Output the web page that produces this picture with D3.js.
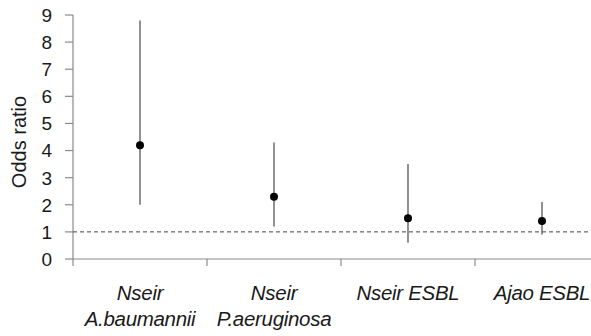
<!DOCTYPE html>
<html>
<head>
<meta charset="utf-8">
<script src="https://cdn.jsdelivr.net/npm/d3@7"></script>
<style>
  body { margin: 0; background: #fff; }
  svg { display: block; font-family: "Liberation Sans", Arial, sans-serif; }
</style>
</head>
<body>
<svg id="chart" width="591" height="336"></svg>
<script>
// data
const studies = ["Nseir|A.baumannii", "Nseir|P.aeruginosa", "Nseir ESBL", "Ajao ESBL"];
const oddsRatio = [4.2, 2.3, 1.5, 1.4];
const lowerCI = [2.0, 1.2, 0.6, 0.9];
const upperCI = [8.8, 4.3, 3.5, 2.1];
const yTicks = [0, 1, 2, 3, 4, 5, 6, 7, 8, 9];

const svg = d3.select("#chart");
const plotLeft = 73, plotTop = 15, plotBottom = 259;

// the category axis runs past the right edge, like the original
const x = d3.scaleBand().domain(studies).range([plotLeft, 609]).padding(0);
const y = d3.scaleLinear().domain([0, 9]).range([plotBottom, plotTop]);

const axisColor = "#8a8a8a";

// y axis
svg.append("line")
  .attr("x1", plotLeft).attr("x2", plotLeft)
  .attr("y1", plotTop).attr("y2", plotBottom)
  .attr("stroke", axisColor).attr("stroke-width", 1.2);

svg.selectAll(".ytick")
  .data(yTicks)
  .join("line")
  .attr("x1", plotLeft - 8).attr("x2", plotLeft)
  .attr("y1", d => y(d)).attr("y2", d => y(d))
  .attr("stroke", axisColor).attr("stroke-width", 1.2);

svg.selectAll(".ylab")
  .data(yTicks)
  .join("text")
  .attr("x", plotLeft - 21)
  .attr("y", d => y(d))
  .attr("dy", "0.36em")
  .attr("text-anchor", "end")
  .attr("font-size", 19)
  .attr("fill", "#1a1a1a")
  .text(d => d);

svg.append("text")
  .attr("transform", `translate(26,${(plotTop + plotBottom) / 2 + 5}) rotate(-90)`)
  .attr("text-anchor", "middle")
  .attr("font-size", 20)
  .attr("fill", "#1a1a1a")
  .text("Odds ratio");

// x axis
svg.append("line")
  .attr("x1", plotLeft).attr("x2", 609)
  .attr("y1", plotBottom).attr("y2", plotBottom)
  .attr("stroke", axisColor).attr("stroke-width", 1.2);

svg.selectAll(".xtick")
  .data(d3.range(studies.length + 1))
  .join("line")
  .attr("x1", i => plotLeft + i * x.step()).attr("x2", i => plotLeft + i * x.step())
  .attr("y1", plotBottom).attr("y2", plotBottom + 7)
  .attr("stroke", axisColor).attr("stroke-width", 1.2);

const xlab = svg.selectAll(".xlab")
  .data(studies)
  .join("text")
  .attr("text-anchor", "middle")
  .attr("font-size", 20.5)
  .attr("font-style", "italic")
  .attr("letter-spacing", -0.3)
  .attr("fill", "#1a1a1a");

xlab.each(function (d) {
  const parts = d.split("|");
  const cx = x(d) + x.bandwidth() / 2;
  d3.select(this).selectAll("tspan")
    .data(parts)
    .join("tspan")
    .attr("x", cx)
    .attr("y", (p, i) => 300 + i * 26)
    .text(p => p);
});

// reference line at OR = 1
svg.append("line")
  .attr("x1", plotLeft).attr("x2", 591)
  .attr("y1", y(1)).attr("y2", y(1))
  .attr("stroke", "#444").attr("stroke-width", 1)
  .attr("stroke-dasharray", "4,3");

// confidence intervals
svg.selectAll(".ci")
  .data(studies)
  .join("line")
  .attr("x1", d => x(d) + x.bandwidth() / 2)
  .attr("x2", d => x(d) + x.bandwidth() / 2)
  .attr("y1", (d, i) => y(lowerCI[i]))
  .attr("y2", (d, i) => y(upperCI[i]))
  .attr("stroke", "#555").attr("stroke-width", 1.3);

// point estimates
svg.selectAll(".pt")
  .data(studies)
  .join("circle")
  .attr("cx", d => x(d) + x.bandwidth() / 2)
  .attr("cy", (d, i) => y(oddsRatio[i]))
  .attr("r", 4)
  .attr("fill", "#000");
</script>
</body>
</html>
